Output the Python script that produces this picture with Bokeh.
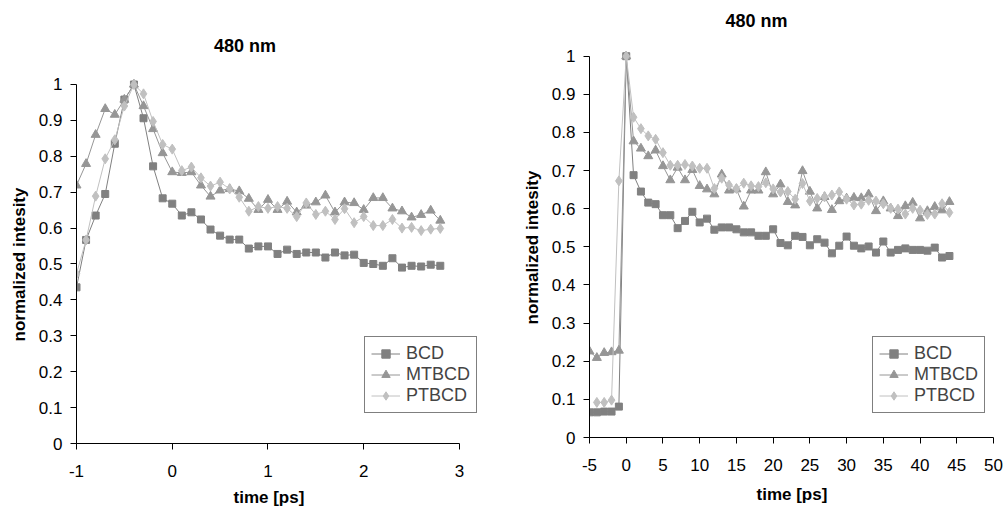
from bokeh.plotting import figure
from bokeh.models import FixedTicker, Legend, LegendItem, Label, Title
from bokeh.embed import file_html
from bokeh.resources import INLINE

# ---------------- data ----------------
t_left = [-1.0, -0.9, -0.8, -0.7, -0.6, -0.5, -0.4, -0.3, -0.2, -0.1,
          0.0, 0.1, 0.2, 0.3, 0.4, 0.5, 0.6, 0.7, 0.8, 0.9,
          1.0, 1.1, 1.2, 1.3, 1.4, 1.5, 1.6, 1.7, 1.8, 1.9,
          2.0, 2.1, 2.2, 2.3, 2.4, 2.5, 2.6, 2.7, 2.8]
bcd_left = [0.435, 0.567, 0.635, 0.695, 0.835, 0.958, 1.0, 0.906, 0.772, 0.683,
            0.668, 0.635, 0.644, 0.624, 0.596, 0.579, 0.568, 0.568, 0.543, 0.549,
            0.549, 0.528, 0.540, 0.528, 0.532, 0.532, 0.518, 0.532, 0.524, 0.526,
            0.503, 0.500, 0.495, 0.516, 0.490, 0.495, 0.493, 0.498, 0.495]
mtbcd_left = [0.719, 0.779, 0.860, 0.932, 0.916, 0.958, 1.0, 0.940, 0.876, 0.809,
              0.756, 0.754, 0.756, 0.719, 0.688, 0.705, 0.709, 0.703, 0.682, 0.651,
              0.679, 0.651, 0.674, 0.644, 0.663, 0.672, 0.691, 0.644, 0.672, 0.670,
              0.651, 0.684, 0.684, 0.655, 0.647, 0.630, 0.637, 0.649, 0.621]
ptbcd_left = [0.473, 0.567, 0.689, 0.793, 0.846, 0.940, 1.0, 0.974, 0.897, 0.833,
              0.820, 0.760, 0.770, 0.740, 0.717, 0.728, 0.709, 0.686, 0.647, 0.660,
              0.655, 0.660, 0.655, 0.632, 0.670, 0.638, 0.647, 0.624, 0.654, 0.615,
              0.632, 0.607, 0.607, 0.624, 0.600, 0.602, 0.593, 0.597, 0.599]

t_right = [-5, -4, -3, -2, -1, 0, 1, 2, 3, 4, 5, 6, 7, 8, 9, 10, 11, 12, 13, 14,
           15, 16, 17, 18, 19, 20, 21, 22, 23, 24, 25, 26, 27, 28, 29, 30, 31, 32,
           33, 34, 35, 36, 37, 38, 39, 40, 41, 42, 43, 44]
bcd_right = [0.066, 0.066, 0.068, 0.068, 0.081, 1.0, 0.688, 0.645, 0.616, 0.612,
             0.583, 0.583, 0.549, 0.568, 0.592, 0.564, 0.574, 0.545, 0.551, 0.551,
             0.546, 0.538, 0.538, 0.529, 0.529, 0.546, 0.510, 0.504, 0.529, 0.526,
             0.504, 0.520, 0.511, 0.483, 0.503, 0.527, 0.503, 0.496, 0.501, 0.485,
             0.514, 0.485, 0.492, 0.496, 0.492, 0.492, 0.490, 0.498, 0.472, 0.476]
mtbcd_right = [0.226, 0.209, 0.222, 0.224, 0.228, 1.0, 0.777, 0.758, 0.738, 0.753,
               0.712, 0.675, 0.708, 0.675, 0.702, 0.660, 0.651, 0.638, 0.690, 0.648,
               0.651, 0.606, 0.648, 0.648, 0.696, 0.638, 0.664, 0.618, 0.609, 0.699,
               0.645, 0.601, 0.631, 0.597, 0.620, 0.627, 0.629, 0.628, 0.638, 0.594,
               0.620, 0.601, 0.581, 0.607, 0.616, 0.575, 0.594, 0.605, 0.596, 0.618]
t_right_pt = [-4, -3, -2, -1, 0, 1, 2, 3, 4, 5, 6, 7, 8, 9, 10, 11, 12, 13, 14,
              15, 16, 17, 18, 19, 20, 21, 22, 23, 24, 25, 26, 27, 28, 29, 30, 31, 32,
              33, 34, 35, 36, 37, 38, 39, 40, 41, 42, 43, 44]
ptbcd_right = [0.092, 0.092, 0.098, 0.673, 1.0, 0.840, 0.810, 0.791, 0.782,
               0.747, 0.714, 0.714, 0.716, 0.712, 0.706, 0.706, 0.653, 0.680, 0.662,
               0.653, 0.667, 0.660, 0.658, 0.668, 0.652, 0.644, 0.645, 0.625, 0.666,
               0.620, 0.627, 0.631, 0.636, 0.644, 0.625, 0.610, 0.612, 0.622, 0.620,
               0.613, 0.601, 0.599, 0.586, 0.601, 0.596, 0.585, 0.586, 0.613, 0.590]

series_names = ["BCD", "MTBCD", "PTBCD"]
chart_title = "480 nm"
x_label = "time [ps]"
y_label = "normalized intesity"
y_ticks = [0, 0.1, 0.2, 0.3, 0.4, 0.5, 0.6, 0.7, 0.8, 0.9, 1]
y_tick_labels = ["0", "0.1", "0.2", "0.3", "0.4", "0.5", "0.6", "0.7", "0.8", "0.9", "1"]
x_ticks_left = [-1, 0, 1, 2, 3]
x_ticks_right = [-5, 0, 5, 10, 15, 20, 25, 30, 35, 40, 45, 50]

# ---------------- style ----------------
FONT = "Liberation Sans"
COLORS = ["#808080", "#969696", "#c0c0c0"]
MARKERS = ["square", "triangle", "diamond"]
SIZES = [7, 9, 10]


def make_fig(width, height, xr, xbounds, yr, xt, borders, title_pos,
             ylab_offset, ylab_standoff, xlab_offset, xlab_standoff):
    p = figure(width=width, height=height, x_range=xr, y_range=yr, title=None,
               output_backend="svg", toolbar_location=None,
               min_border_left=borders[0], min_border_right=borders[1],
               min_border_top=borders[2], min_border_bottom=borders[3])
    p.outline_line_color = None
    p.xgrid.visible = False
    p.ygrid.visible = False
    p.background_fill_color = "white"
    p.border_fill_color = "white"
    p.xaxis.ticker = FixedTicker(ticks=xt)
    p.yaxis.ticker = FixedTicker(ticks=y_ticks)
    p.xaxis.bounds = xbounds
    p.yaxis.bounds = (0, 1)
    p.yaxis.major_label_overrides = {v: s for v, s in zip(y_ticks, y_tick_labels)}
    p.xaxis.major_label_overrides = {v: str(v) for v in xt}
    for ax in (p.xaxis[0], p.yaxis[0]):
        ax.axis_line_color = "black"
        ax.major_tick_line_color = "black"
        ax.major_tick_out = 6
        ax.major_tick_in = 0
        ax.minor_tick_line_color = None
        ax.major_label_text_font = FONT
        ax.major_label_text_font_size = "17px"
        ax.major_label_text_color = "black"
    p.xaxis.major_label_standoff = 15
    p.yaxis.major_label_standoff = 8
    # axis titles as side panels (exact placement along the axis)
    p.add_layout(Title(text=y_label, align="left", offset=ylab_offset,
                       standoff=ylab_standoff, vertical_align="bottom",
                       text_font=FONT, text_font_size="17px", text_font_style="bold",
                       text_color="black"), "left")
    p.add_layout(Title(text=x_label, align="left", offset=xlab_offset,
                       standoff=xlab_standoff, vertical_align="bottom",
                       text_font=FONT, text_font_size="17px", text_font_style="bold",
                       text_color="black"), "below")
    p.add_layout(Label(x=title_pos[0], y=title_pos[1], text=chart_title,
                       text_font=FONT, text_font_size="18px", text_font_style="bold",
                       text_color="black", text_align="center", text_baseline="middle"))
    return p


def add_series(p, xs_list, ys_list, legend_loc):
    items = []
    for name, xs, ys, c, m, s in zip(series_names, xs_list, ys_list, COLORS, MARKERS, SIZES):
        ln = p.line(xs, ys, line_color=c, line_width=1)
        sc = p.scatter(xs, ys, marker=m, size=s, fill_color=c, line_color=c)
        items.append(LegendItem(label=name, renderers=[ln, sc]))
    leg = Legend(items=items, location=legend_loc)
    leg.label_text_font = FONT
    leg.label_text_font_size = "18px"
    leg.label_height = 21
    leg.glyph_height = 21
    leg.glyph_width = 29
    leg.label_standoff = 6
    leg.spacing = 0
    leg.padding = 6
    leg.margin = 0
    leg.border_line_color = "black"
    leg.border_line_width = 1
    leg.background_fill_color = "white"
    leg.background_fill_alpha = 1
    p.add_layout(leg, "center")


# left chart: frame x 75..480 (axis -1..3 at 75..459), y 30..443 (axis 0..1 at 443..84)
p1 = make_fig(496, 528, (-1, 3.22), (-1, 3), (0, 1.1504), x_ticks_left,
              (75, 16, 30, 85), (0.76, 1.106), 102, 14, 157, 13)
add_series(p1, [t_left, t_left, t_left], [bcd_left, mtbcd_left, ptbcd_left], (288, 30))

# right chart: frame x 589..993, y 8..437 (axis 0..1 at 437..56)
p2 = make_fig(509, 521, (-5, 50), (-5, 50), (0, 1.1251), x_ticks_right,
              (93, 12, 8, 84), (17.74, 1.092), 113, 13, 167, 19)
add_series(p2, [t_right, t_right, t_right_pt], [bcd_right, mtbcd_right, ptbcd_right], (283, 24))

TEMPLATE = """{% block postamble %}
<style>
html, body { margin: 0 !important; padding: 0 !important; width: auto !important; overflow: hidden !important; }
body { display: flex !important; flex-direction: row !important; align-items: flex-start !important; }
</style>
{% endblock %}"""

open("out.html", "w").write(file_html([p1, p2], INLINE, template=TEMPLATE))
